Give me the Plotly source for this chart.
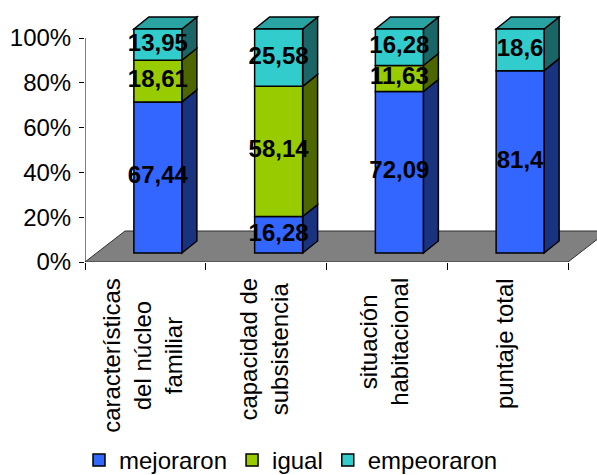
import plotly.graph_objects as go

# ---- data -------------------------------------------------------------
categories = [
    "características<br>del núcleo<br>familiar",
    "capacidad de<br>subsistencia",
    "situación<br>habitacional",
    "puntaje total",
]
series_names = ["mejoraron", "igual", "empeoraron"]
mejoraron = [67.44, 16.28, 72.09, 81.4]
igual = [18.61, 58.14, 11.63, 0]
empeoraron = [13.95, 25.58, 16.28, 18.6]
y_tick_vals = [0, 20, 40, 60, 80, 100]
y_tick_text = ["0%", "20%", "40%", "60%", "80%", "100%"]

series_values = [mejoraron, igual, empeoraron]

# ---- styling ----------------------------------------------------------
FONT = "Arial, 'Liberation Sans', sans-serif"
front_colors = ["#3366FF", "#99CC00", "#33CCCC"]
side_colors = ["#1A3380", "#4D6600", "#1A6666"]
top_colors = ["#2952CC", "#7AA300", "#2AA3A3"]

W, H = 597, 475
ML, MR, MT, MB = 85, 0, 10, 213
plot_w = W - ML - MR
plot_h = H - MT - MB

# pixel scale of the axes
px_per_cat = 120.75
px_per_pct = 2.24
x_max = plot_w / px_per_cat
y_max = plot_h / px_per_pct

# 3-D look: offsets expressed in axis units
bar_w = 48 / px_per_cat
front_dx = 12.5 / px_per_cat
front_dy = 9 / px_per_pct
depth_dx = 15 / px_per_cat
depth_dy = 12 / px_per_pct
floor_dx = 40 / px_per_cat
floor_dy = 31 / px_per_pct

n_cat = len(categories)
centers = [i + 0.5 + front_dx for i in range(n_cat)]

fig = go.Figure()
shapes = []

# floor
shapes.append(dict(
    type="path", xref="x", yref="y", layer="below",
    path=f"M 0,0 L {n_cat},0 L {n_cat + floor_dx},{floor_dy} L {floor_dx},{floor_dy} Z",
    fillcolor="#808080", line=dict(color="#303030", width=1),
))

# stacked front faces, side faces, top faces, labels
lab_x, lab_y, lab_t = [], [], []
bases = [[0.0] * n_cat for _ in series_values]
for i in range(n_cat):
    cum = front_dy
    last = None
    xr = centers[i] + bar_w / 2
    xl = centers[i] - bar_w / 2
    for s, vals in enumerate(series_values):
        v = vals[i]
        bases[s][i] = cum
        if v <= 0:
            continue
        y0, y1 = cum, cum + v
        shapes.append(dict(
            type="path", xref="x", yref="y", layer="below",
            path=(f"M {xr},{y0} L {xr + depth_dx},{y0 + depth_dy} "
                  f"L {xr + depth_dx},{y1 + depth_dy} L {xr},{y1} Z"),
            fillcolor=side_colors[s], line=dict(color="black", width=1.5),
        ))
        lab_x.append(centers[i])
        lab_y.append((y0 + y1) / 2)
        lab_t.append("<b>" + f"{v:g}".replace(".", ",") + "</b>")
        cum = y1
        last = s
    shapes.append(dict(
        type="path", xref="x", yref="y", layer="below",
        path=(f"M {xl},{cum} L {xl + depth_dx},{cum + depth_dy} "
              f"L {xr + depth_dx},{cum + depth_dy} L {xr},{cum} Z"),
        fillcolor=top_colors[last], line=dict(color="black", width=1.5),
    ))

for s, (name, vals) in enumerate(zip(series_names, series_values)):
    fig.add_trace(go.Bar(
        name=name,
        x=centers,
        y=[v if v > 0 else None for v in vals],
        base=bases[s],
        width=bar_w,
        marker=dict(color=front_colors[s], line=dict(color="black", width=1.5)),
        hoverinfo="skip",
    ))

fig.add_trace(go.Scatter(
    x=lab_x, y=lab_y, text=lab_t, mode="text",
    textfont=dict(family=FONT, size=24, color="black"),
    showlegend=False, cliponaxis=False, hoverinfo="skip",
))

# value axis line
shapes.append(dict(type="line", xref="x", yref="y", x0=0, x1=0, y0=0, y1=100,
                   line=dict(color="black", width=1)))

# category labels, rotated and hanging below the floor edge
annotations = []
for i, cat in enumerate(categories):
    annotations.append(dict(
        x=i + 0.5, y=-14 / plot_h, xref="x", yref="paper",
        text=cat, textangle=-90, showarrow=False,
        xanchor="center", yanchor="top", align="center", xshift=-3,
        font=dict(family=FONT, size=24, color="black"),
    ))

fig.update_layout(
    width=W, height=H,
    margin=dict(l=ML, r=MR, t=MT, b=MB, autoexpand=False),
    paper_bgcolor="white", plot_bgcolor="white",
    barmode="overlay",
    shapes=shapes,
    annotations=annotations,
    showlegend=True,
    legend=dict(
        orientation="h", x=(291 - ML) / plot_w, xanchor="center",
        y=-(483 - (MT + plot_h)) / plot_h, yanchor="bottom",
        font=dict(family=FONT, size=24, color="black"),
        itemwidth=30, traceorder="normal", tracegroupgap=0,
        bgcolor="rgba(0,0,0,0)",
    ),
    xaxis=dict(
        range=[0, x_max], showgrid=False, zeroline=False, showline=False,
        tickvals=list(range(n_cat + 1)), ticks="outside", ticklen=7,
        tickcolor="black", showticklabels=False, fixedrange=True,
    ),
    yaxis=dict(
        range=[0, y_max], showgrid=False, zeroline=False, showline=False,
        tickvals=y_tick_vals, ticktext=y_tick_text, ticks="outside",
        ticklen=5, tickcolor="black", ticklabelstandoff=3,
        tickfont=dict(family=FONT, size=24, color="black"), fixedrange=True,
    ),
)

fig.write_html("out.html")
